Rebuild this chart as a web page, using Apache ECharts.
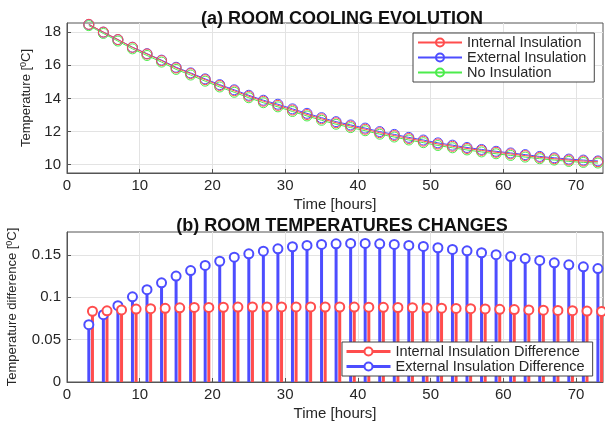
<!DOCTYPE html>
<html>
<head>
<meta charset="utf-8">
<script src="https://cdn.jsdelivr.net/npm/echarts@6/dist/echarts.min.js"></script>
<style>
html, body { margin: 0; padding: 0; background: #fff; }
#main { width: 605px; height: 423px; }
</style>
</head>
<body>
<div id="main"></div>
<script>
// hours sampled (odd hours)
var hours = [3, 5, 7, 9, 11, 13, 15, 17, 19, 21, 23, 25, 27, 29, 31, 33, 35, 37,
    39, 41, 43, 45, 47, 49, 51, 53, 55, 57, 59, 61, 63, 65, 67, 69, 71, 73];
// internal-difference stems are drawn half an hour to the right
var hoursShifted = [3.5, 5.5, 7.5, 9.5, 11.5, 13.5, 15.5, 17.5, 19.5, 21.5, 23.5, 25.5, 27.5, 29.5, 31.5, 33.5, 35.5, 37.5,
    39.5, 41.5, 43.5, 45.5, 47.5, 49.5, 51.5, 53.5, 55.5, 57.5, 59.5, 61.5, 63.5, 65.5, 67.5, 69.5, 71.5, 73.5];

// (a) room temperatures
var tempInternal = [18.47, 18.00, 17.55, 17.08, 16.68, 16.28, 15.84, 15.50, 15.13, 14.78, 14.46, 14.13, 13.83, 13.58, 13.30, 13.03, 12.77, 12.53,
    12.33, 12.14, 11.93, 11.76, 11.58, 11.42, 11.25, 11.11, 10.98, 10.86, 10.75, 10.65, 10.55, 10.44, 10.36, 10.28, 10.22, 10.18];
var tempExternal = [18.46, 18.00, 17.55, 17.09, 16.70, 16.31, 15.88, 15.54, 15.18, 14.83, 14.52, 14.19, 13.89, 13.65, 13.37, 13.10, 12.84, 12.60,
    12.40, 12.21, 12.00, 11.83, 11.65, 11.49, 11.32, 11.18, 11.04, 10.92, 10.81, 10.71, 10.61, 10.50, 10.42, 10.34, 10.28, 10.23];
var tempNone = [18.39, 17.92, 17.46, 16.99, 16.59, 16.19, 15.75, 15.41, 15.04, 14.69, 14.37, 14.04, 13.74, 13.49, 13.21, 12.94, 12.68, 12.44,
    12.24, 12.05, 11.84, 11.67, 11.49, 11.33, 11.16, 11.02, 10.89, 10.77, 10.66, 10.56, 10.46, 10.36, 10.28, 10.20, 10.14, 10.10];

// (b) differences
var diffInternal = [0.0835, 0.0840, 0.0850, 0.0860, 0.0865, 0.0870, 0.0875, 0.0880, 0.0880, 0.0882, 0.0884, 0.0885, 0.0886, 0.0886, 0.0886, 0.0886, 0.0885, 0.0885,
    0.0884, 0.0883, 0.0881, 0.0879, 0.0877, 0.0874, 0.0871, 0.0868, 0.0865, 0.0862, 0.0858, 0.0855, 0.0851, 0.0848, 0.0844, 0.0841, 0.0837, 0.0833];
var diffExternal = [0.0677, 0.0795, 0.0900, 0.1005, 0.1090, 0.1170, 0.1250, 0.1315, 0.1375, 0.1425, 0.1473, 0.1513, 0.1544, 0.1572, 0.1596, 0.1611, 0.1623, 0.1631,
    0.1635, 0.1635, 0.1631, 0.1623, 0.1611, 0.1600, 0.1584, 0.1564, 0.1548, 0.1525, 0.1502, 0.1480, 0.1457, 0.1434, 0.1406, 0.1383, 0.1359, 0.1339];

var xTicks = [0, 10, 20, 30, 40, 50, 60, 70];
var yTicksTop = [10, 12, 14, 16, 18];
var yTicksBottom = [0, 0.05, 0.1, 0.15];

var RED = '#ff4d4d', BLUE = '#4d4dff', GREEN = '#4cec4c';
var TXT = '#262626';
var FONT = 'Liberation Sans, Arial, sans-serif';

function pairs(xs, ys) {
    return xs.map(function (x, i) { return [x, ys[i]]; });
}

function stemRender(color) {
    return function (params, api) {
        var p0 = api.coord([api.value(0), 0]);
        var p1 = api.coord([api.value(0), api.value(1)]);
        return {
            type: 'line',
            shape: { x1: p0[0], y1: p0[1], x2: p1[0], y2: p1[1] },
            style: { stroke: color, lineWidth: 3 }
        };
    };
}

function xAxisCfg(idx) {
    return {
        type: 'value', gridIndex: idx, min: 0, max: 73.7,
        name: 'Time [hours]', nameLocation: 'middle', nameGap: 24,
        nameTextStyle: { fontSize: 15, color: TXT, fontFamily: FONT },
        axisLine: { show: true, onZero: false, lineStyle: { color: '#555' } },
        axisTick: { inside: true, length: 4, customValues: xTicks, lineStyle: { color: '#555' } },
        axisLabel: { customValues: xTicks, fontSize: 15, color: TXT, fontFamily: FONT, margin: 5 },
        splitLine: { show: true, lineStyle: { color: '#e3e3e3' } }
    };
}

function yName(txt) {
    return '{n|' + txt + ' [}{s|0}{n|C]}';
}
var yNameStyle = {
    fontFamily: FONT, color: TXT,
    rich: {
        n: { fontSize: 13, color: TXT, fontFamily: FONT },
        s: { fontSize: 9, color: TXT, fontFamily: FONT, verticalAlign: 'top', padding: [0, 0, 6, 0] }
    }
};

var chart = echarts.init(document.getElementById('main'));
var option = {
    animation: false,
    backgroundColor: '#fff',
    title: [{
        text: '(a) ROOM COOLING EVOLUTION', left: 337, top: 5, textAlign: 'center',
        textStyle: { fontSize: 18, fontWeight: 'bold', color: '#111', fontFamily: FONT }
    }, {
        text: '(b) ROOM TEMPERATURES CHANGES', left: 337, top: 212, textAlign: 'center',
        textStyle: { fontSize: 18, fontWeight: 'bold', color: '#111', fontFamily: FONT }
    }],
    grid: [
        { left: 67, right: 2, top: 23, height: 150, show: true, borderColor: '#555', borderWidth: 1, outerBoundsMode: 'none', containLabel: false },
        { left: 67, right: 2, top: 232, height: 150, show: true, borderColor: '#555', borderWidth: 1, outerBoundsMode: 'none', containLabel: false }
    ],
    legend: [{
        orient: 'vertical', left: 413, top: 33,
        data: ['Internal Insulation', 'External Insulation', 'No Insulation'],
        itemWidth: 44, itemHeight: 10, itemGap: 0,
        padding: [2, 8, 2, 4],
        borderColor: '#444', borderWidth: 1, backgroundColor: '#fff', borderRadius: 0,
        textStyle: { fontSize: 14.5, lineHeight: 14, color: TXT, fontFamily: FONT }
    }, {
        orient: 'vertical', left: 342, top: 342,
        data: [
            { name: 'Internal Insulation Difference', lineStyle: { opacity: 1, width: 3, color: RED } },
            { name: 'External Insulation Difference', lineStyle: { opacity: 1, width: 3, color: BLUE } }
        ],
        itemWidth: 44, itemHeight: 10, itemGap: 0,
        padding: [2, 8, 2, 3],
        borderColor: '#444', borderWidth: 1, backgroundColor: '#fff', borderRadius: 0,
        textStyle: { fontSize: 14.5, lineHeight: 13, color: TXT, fontFamily: FONT }
    }],
    xAxis: [xAxisCfg(0), xAxisCfg(1)],
    yAxis: [{
        type: 'value', gridIndex: 0, min: 9.5, max: 18.55,
        name: yName('Temperature'), nameLocation: 'middle', nameGap: 31,
        nameTextStyle: yNameStyle,
        axisLine: { show: true, lineStyle: { color: '#555' } },
        axisTick: { show: true, inside: true, length: 4, customValues: yTicksTop, lineStyle: { color: '#555' } },
        axisLabel: { customValues: yTicksTop, fontSize: 15, color: TXT, fontFamily: FONT, margin: 6 },
        splitLine: { show: true, lineStyle: { color: '#e3e3e3' } }
    }, {
        type: 'value', gridIndex: 1, min: 0, max: 0.177,
        name: yName('Temperature difference'), nameLocation: 'middle', nameGap: 47,
        nameTextStyle: yNameStyle,
        axisLine: { show: true, lineStyle: { color: '#555' } },
        axisTick: { show: true, inside: true, length: 4, customValues: yTicksBottom, lineStyle: { color: '#555' } },
        axisLabel: { customValues: yTicksBottom, fontSize: 15, color: TXT, fontFamily: FONT, margin: 6 },
        splitLine: { show: true, lineStyle: { color: '#e3e3e3' } }
    }],
    series: [{
        name: 'No Insulation', type: 'line', xAxisIndex: 0, yAxisIndex: 0,
        data: pairs(hours, tempNone), symbol: 'circle', symbolSize: 10,
        lineStyle: { color: GREEN, width: 1 },
        itemStyle: { color: 'rgba(255,255,255,0)', borderColor: GREEN, borderWidth: 1 }
    }, {
        name: 'External Insulation', type: 'line', xAxisIndex: 0, yAxisIndex: 0,
        data: pairs(hours, tempExternal), symbol: 'circle', symbolSize: 10,
        lineStyle: { color: BLUE, width: 1 },
        itemStyle: { color: 'rgba(255,255,255,0)', borderColor: BLUE, borderWidth: 1 }
    }, {
        name: 'Internal Insulation', type: 'line', xAxisIndex: 0, yAxisIndex: 0,
        data: pairs(hours, tempInternal), symbol: 'circle', symbolSize: 10,
        lineStyle: { color: RED, width: 1 },
        itemStyle: { color: 'rgba(255,255,255,0)', borderColor: RED, borderWidth: 1 }
    }, {
        name: 'ext stems', type: 'custom', xAxisIndex: 1, yAxisIndex: 1,
        data: pairs(hours, diffExternal), renderItem: stemRender(BLUE),
        encode: { x: 0, y: 1 }, clip: true
    }, {
        name: 'External Insulation Difference', type: 'line', xAxisIndex: 1, yAxisIndex: 1,
        data: pairs(hours, diffExternal), symbol: 'emptyCircle', symbolSize: 9,
        lineStyle: { color: BLUE, opacity: 0 }, itemStyle: { color: BLUE, borderWidth: 3 }
    }, {
        name: 'int stems', type: 'custom', xAxisIndex: 1, yAxisIndex: 1,
        data: pairs(hoursShifted, diffInternal), renderItem: stemRender(RED),
        encode: { x: 0, y: 1 }, clip: true
    }, {
        name: 'Internal Insulation Difference', type: 'line', xAxisIndex: 1, yAxisIndex: 1,
        data: pairs(hoursShifted, diffInternal), symbol: 'emptyCircle', symbolSize: 9,
        lineStyle: { color: RED, opacity: 0 }, itemStyle: { color: RED, borderWidth: 3 }
    }]
};
chart.setOption(option);
</script>
</body>
</html>
